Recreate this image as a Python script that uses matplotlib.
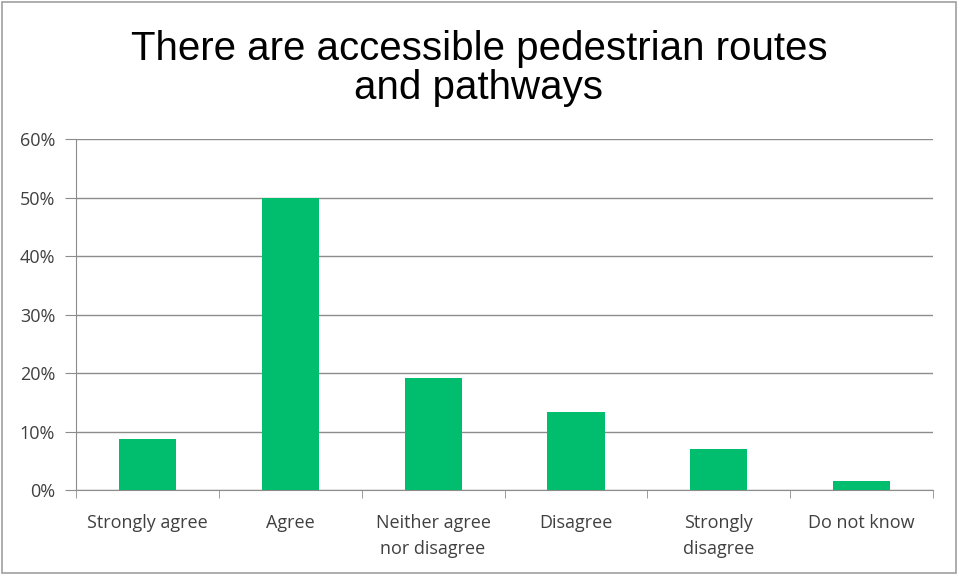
import matplotlib
matplotlib.use('Agg')
import matplotlib.pyplot as plt
from matplotlib.patches import Rectangle
from matplotlib.ticker import FixedLocator, PercentFormatter

categories = ['Strongly agree', 'Agree', 'Neither agree\nnor disagree',
              'Disagree', 'Strongly\ndisagree', 'Do not know']
values = [8.8, 50.0, 19.1, 13.3, 7.0, 1.5]
yticks = [0, 10, 20, 30, 40, 50, 60]

grid_col = '#8c8c8c'
text_col = '#404040'
tick_font = 'Open Sans'

fig = plt.figure(figsize=(9.58, 5.75), dpi=100)
ax = fig.add_axes([0.0793, 0.1478, 0.8947, 0.6102])

x = list(range(len(categories)))
ax.bar(x, values, width=0.4, color='#00BE6E', zorder=3)

ax.set_xlim(-0.5, len(categories) - 0.5)
ax.set_ylim(0, 60)
ax.set_yticks(yticks)
ax.yaxis.set_major_formatter(PercentFormatter(decimals=0))
ax.grid(axis='y', color=grid_col, linewidth=1, zorder=0)

for s in ['top', 'right']:
    ax.spines[s].set_visible(False)
ax.spines['left'].set_color(grid_col)
ax.spines['bottom'].set_color(grid_col)

ax.set_xticks(x)
ax.set_xticklabels(categories, fontfamily=tick_font, fontsize=13, color=text_col,
                   linespacing=1.6)
ax.tick_params(axis='x', which='major', length=0, pad=17)
ax.xaxis.set_minor_locator(FixedLocator([i - 0.5 for i in range(len(categories) + 1)]))
ax.tick_params(axis='x', which='minor', length=6, color=grid_col, direction='out')
ax.tick_params(axis='y', length=8, color=grid_col, pad=7)
for lbl in ax.get_yticklabels():
    lbl.set_fontfamily(tick_font)
    lbl.set_fontsize(13)
    lbl.set_color(text_col)

fig.text(0.5, 0.881, 'There are accessible pedestrian routes\nand pathways',
         ha='center', va='center', fontfamily='Liberation Sans', fontsize=29,
         linespacing=1.05)

fig.patches.append(Rectangle((0.002, 0.003), 0.996, 0.994, transform=fig.transFigure,
                             fill=False, edgecolor='#a0a0a0', linewidth=1.2))

fig.savefig('out.png', dpi=100)
